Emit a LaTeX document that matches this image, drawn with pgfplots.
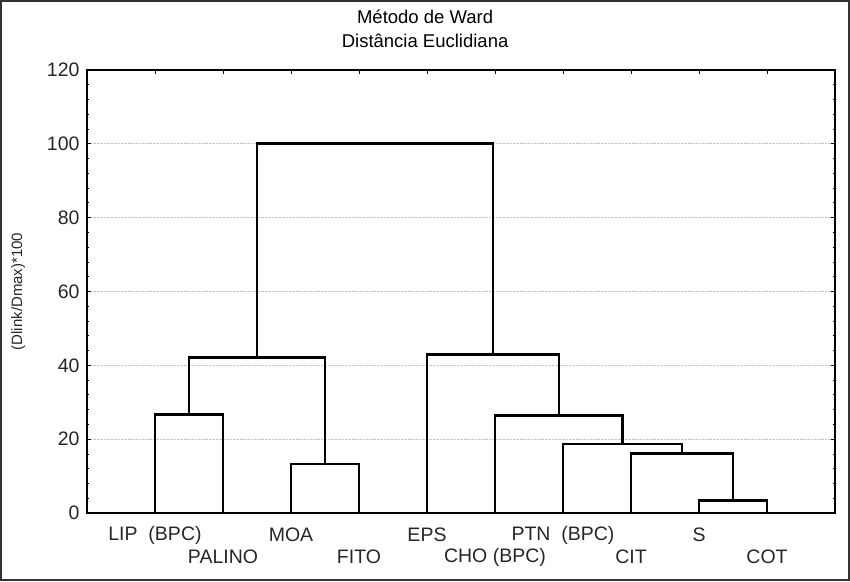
\documentclass[border=0pt]{standalone}
\usepackage{pgfplots}
\pgfplotsset{compat=1.18}
\usepackage{fontspec}
\setmainfont{Liberation Sans}

\pgfplotsset{link/.style={black, solid, line width=2.8pt, line join=miter, mark=none}}

\begin{document}
\begin{tikzpicture}
\useasboundingbox (-87pt,-68pt) rectangle (763pt,513pt);
\begin{axis}[
    at={(0,0)}, anchor=south west,
    scale only axis, width=748pt, height=443pt,
    xmin=0, xmax=11, ymin=0, ymax=120,
    axis line style={line width=1.4pt},
    /pgf/number format/assume math mode=true,
    tick label style={font=\fontsize{19.5}{22}\selectfont, color=black!85},
    ytick={0,20,...,120},
    minor y tick num=4,
    tick align=inside, tick pos=both,
    major tick length=4pt, minor tick length=2.5pt,
    tick style={line width=0.8pt, black},
    yticklabel style={xshift=-4pt},
    ymajorgrids,
    grid style={densely dotted, line width=0.8pt, black!22},
    xtick={1,3,5,7,9},
    xticklabels={LIP\ \ (BPC), MOA, EPS, PTN\ \ (BPC), S},
    xticklabel style={anchor=center, yshift=-22pt},
    extra x ticks={2,4,6,8,10},
    extra x tick labels={PALINO, FITO, CHO (BPC), CIT, COT},
    extra x tick style={grid=none, xticklabel style={yshift=-22pt}},
    ylabel={(Dlink/Dmax)*100},
    ylabel style={font=\fontsize{15}{17}\selectfont, color=black!85,
        at={(axis description cs:-0.092,0.5)}, anchor=center},
    title={Método de Ward\\Distância Euclidiana},
    title style={font=\fontsize{18.5}{24}\selectfont, align=center,
        at={(axis description cs:0.452,1.079)}, anchor=center},
]
% leaf x positions 1..10; each link drawn as a U shape
\addplot[link] coordinates {(1,0) (1,26.7) (2,26.7) (2,0)};             % LIP-PALINO
\addplot[link] coordinates {(3,0) (3,13.3) (4,13.3) (4,0)};             % MOA-FITO
\addplot[link] coordinates {(1.5,26.7) (1.5,42.2) (3.5,42.2) (3.5,13.3)};
\addplot[link] coordinates {(9,0) (9,3.3) (10,3.3) (10,0)};             % S-COT
\addplot[link] coordinates {(8,0) (8,16.1) (9.5,16.1) (9.5,3.3)};       % CIT
\addplot[link] coordinates {(7,0) (7,18.7) (8.75,18.7) (8.75,16.1)};    % PTN
\addplot[link] coordinates {(6,0) (6,26.4) (7.875,26.4) (7.875,18.7)};  % CHO
\addplot[link] coordinates {(5,0) (5,43.0) (6.94,43.0) (6.94,26.4)};    % EPS
\addplot[link] coordinates {(2.5,42.2) (2.5,100) (5.97,100) (5.97,43.0)};
\end{axis}
\draw[line width=1.6pt, black!80] (-86.2pt,-67.2pt) rectangle (762.2pt,512.2pt);
\end{tikzpicture}
\end{document}
